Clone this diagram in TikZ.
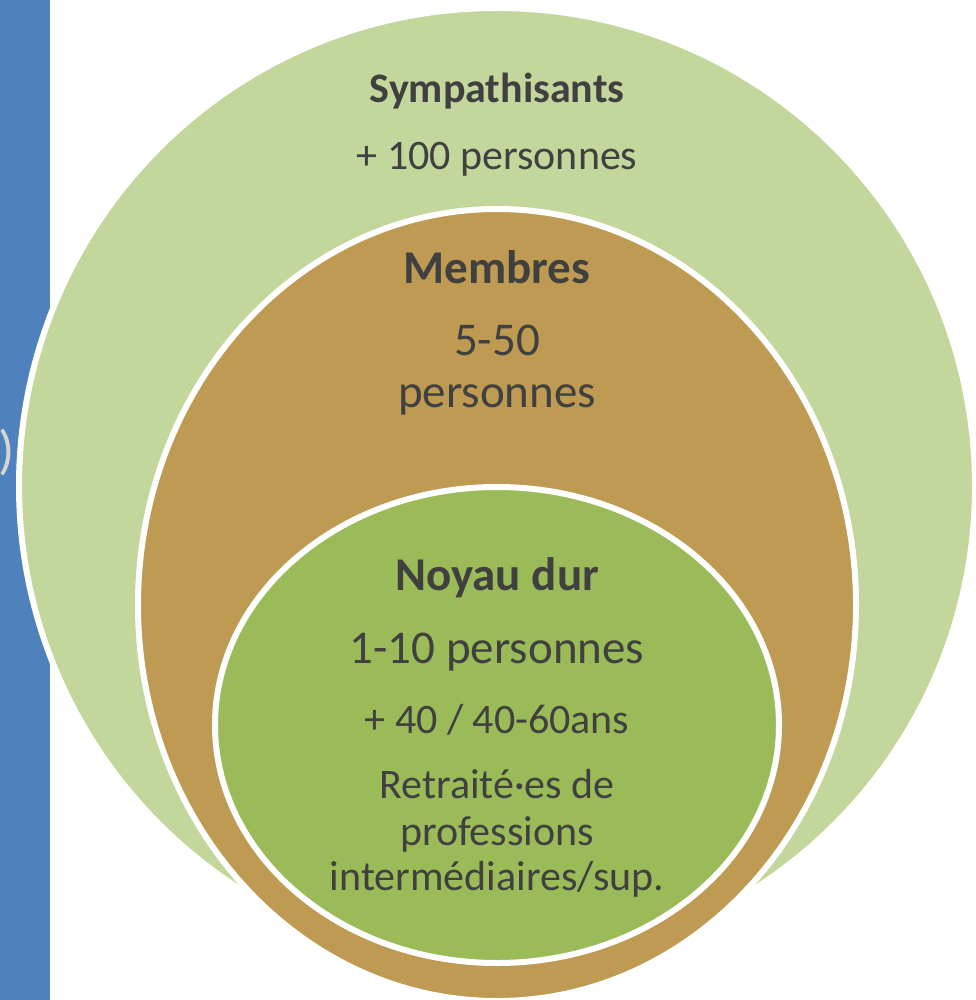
\documentclass[tikz,border=0pt]{standalone}
\usepackage{fontspec}
\setmainfont{Carlito}
\usepackage{tikz}
\usepackage{xcolor}
\definecolor{vertclair}{HTML}{C3D69B}
\definecolor{brun}{HTML}{BE9A52}
\definecolor{vertfonce}{HTML}{9BBB59}
\definecolor{bleu}{HTML}{4F81BD}
\definecolor{testo}{HTML}{404040}
\definecolor{grigio}{HTML}{D4D4D4}
\newcommand{\grande}{\fontsize{47}{56}\selectfont}
\newcommand{\piccolo}{\fontsize{42}{50}\selectfont}

\begin{document}
\begin{tikzpicture}[x=1pt, y=-1pt, every node/.style={inner sep=0pt, text=testo, anchor=base}]
    % Parametri
    \pgfmathsetmacro{\cx}{497}
    \pgfmathsetmacro{\bordo}{6}
    \useasboundingbox (0,0) rectangle (975,1000);
    % Barra blu
    \fill[bleu] (0,0) rectangle (50,1000);
    \node[text=grigio, anchor=base east] (paren) at (15,468){\fontsize{54}{60}\selectfont )};
    % Cerchio esterno
    \filldraw[fill=vertclair, draw=white, line width=\bordo pt] (\cx,486) circle (478);
    % Ellisse media
    \filldraw[fill=brun, draw=white, line width=\bordo pt] (\cx,605) ellipse [x radius=359, y radius=396];
    % Ellisse interna
    \filldraw[fill=vertfonce, draw=white, line width=\bordo pt] (\cx,725) ellipse [x radius=282, y radius=238];
    % Testi
    \node[] (symp) at (\cx,103){\piccolo\bfseries Sympathisants};
    \node[] (sympnb) at (\cx,170){\piccolo + 100 personnes};
    \node[] (memb) at (\cx,283){\grande\bfseries Membres};
    \node[] (membnb) at (\cx,355){\grande 5-50};
    \node[] (membpers) at (\cx,407){\grande personnes};
    \node[] (noyau) at (\cx,590){\grande\bfseries Noyau dur};
    \node[] (noyaunb) at (\cx,663){\grande 1-10 personnes};
    \node[] (noyauage) at (\cx,733){\piccolo + 40 / 40-60ans};
    \node[] (noyauprof1) at (\cx,798){\piccolo Retraité·es de};
    \node[] (noyauprof2) at (\cx,845){\piccolo professions};
    \node[] (noyauprof3) at (\cx,890){\piccolo intermédiaires/sup.};
\end{tikzpicture}
\end{document}
